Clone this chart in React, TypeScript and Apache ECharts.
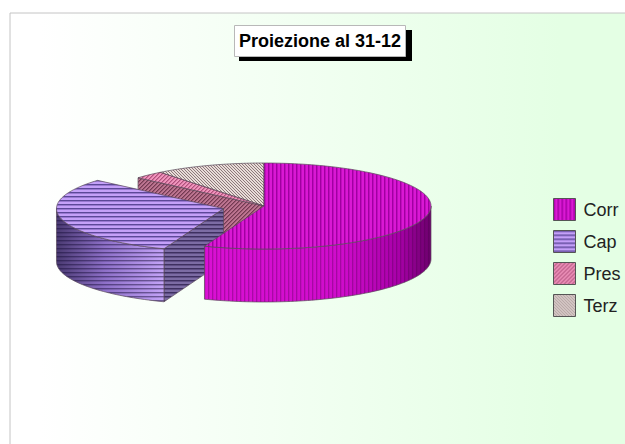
import React, { useEffect, useRef } from "react";
import * as echarts from "echarts";

const titleText = "Proiezione al 31-12";
const categories = ["Corr", "Cap", "Pres", "Terz"];
const values = [55.8, 30.6, 2.9, 10.7];
const explode = [0, 0.25, 0, 0];
const stacking = [5, 4, 3, 2];

const CX = 264, CY = 206, RX = 167, RY = 43, DEPTH = 53;

function tile(size: number, base: string, draw: (c: CanvasRenderingContext2D) => void) {
  const cv = document.createElement("canvas");
  cv.width = size; cv.height = size;
  const c = cv.getContext("2d")!;
  if (base) { c.fillStyle = base; c.fillRect(0, 0, size, size); }
  draw(c);
  return { image: cv, repeat: "repeat" } as any;
}
const vLines = (base: string, line: string, soft: string) => tile(4, base, c => {
  c.fillStyle = line; c.fillRect(0, 0, 1, 4);
  c.fillStyle = soft; c.fillRect(1, 0, 1, 4);
});
const hLines = (base: string, line: string, soft: string) => tile(4, base, c => {
  c.fillStyle = line; c.fillRect(0, 0, 4, 1);
  c.fillStyle = soft; c.fillRect(0, 1, 4, 1);
});
const diag = (base: string, line: string) => tile(3, base, c => {
  c.fillStyle = line;
  for (let i = 0; i < 3; i++) c.fillRect(i, i, 1, 1);
});
const diagUp = (base: string, line: string) => tile(4, base, c => {
  c.fillStyle = line;
  for (let i = 0; i < 4; i++) c.fillRect(3 - i, i, 1, 1);
  c.globalAlpha = 0.5;
  for (let i = 0; i < 4; i++) c.fillRect((4 - i) % 4, i, 1, 1);
});

const topFill = [
  () => vLines("#DA18D4", "#A000A0", "#C00CBE"),
  () => hLines("#C4A0F8", "#5C4898", "#9878D0"),
  () => diagUp("#F094BC", "#B0507C"),
  () => diag("#E8DCD8", "#8C787A"),
];
const overlay = [
  () => vLines("rgba(0,0,0,0)", "rgba(70,0,70,0.32)", "rgba(70,0,70,0.10)"),
  () => hLines("rgba(0,0,0,0)", "rgba(25,15,60,0.5)", "rgba(25,15,60,0.2)"),
];
const faceFill = [
  () => vLines("#C000B8", "#800080", "#A000A0"),
  () => hLines("#7C6CA4", "#3E3060", "#5E4E84"),
  () => diagUp("#BC7490", "#743A52"),
  () => diag("#B8A8A8", "#5A4A4E"),
];
const wallGradient = [
  (x0: number, x1: number) => new echarts.graphic.LinearGradient(x0, 0, x1, 0, [
    { offset: 0, color: "#DA10D4" }, { offset: 0.6, color: "#D00CCC" },
    { offset: 0.86, color: "#A800A8" }, { offset: 1, color: "#6C006C" }], true),
  (x0: number, x1: number) => new echarts.graphic.LinearGradient(x0, 0, x1, 0, [
    { offset: 0, color: "#4A3A72" }, { offset: 0.45, color: "#8E70C8" },
    { offset: 1, color: "#C4A4F8" }], true),
];

const total = values.reduce((a, b) => a + b, 0);
const bounds: number[] = [];
values.reduce((acc, v) => { bounds.push(acc); return acc + (v / total) * 360; }, 0);
bounds.push(360);

const rad = (d: number) => (d * Math.PI) / 180;
const pt = (cx: number, cy: number, t: number): number[] => [
  cx + RX * Math.sin(rad(t)), cy - RY * Math.cos(rad(t)),
];
function arc(cx: number, cy: number, a: number, b: number) {
  const pts: number[][] = [];
  const n = Math.max(2, Math.ceil((b - a) / 1.5));
  for (let i = 0; i <= n; i++) pts.push(pt(cx, cy, a + ((b - a) * i) / n));
  return pts;
}
const EDGE = { stroke: "#5A4A5A", lineWidth: 0.7, lineJoin: "round" };

function renderSlice(idx: number) {
  return () => {
    const a = bounds[idx], b = bounds[idx + 1], mid = (a + b) / 2;
    const k = explode[idx];
    const cx = CX + k * RX * Math.sin(rad(mid));
    const cy = CY - k * RY * Math.cos(rad(mid));
    const children: any[] = [];
    const poly = (points: number[][], fill: any, stroke = true) => children.push({
      type: "polygon", shape: { points },
      style: { fill, ...(stroke ? EDGE : { stroke: "none" }) },
    });
    const drop = (p: number[][]) => p.map(q => [q[0], q[1] + DEPTH]).reverse();
    // cut face on the start side of the slice
    if (a > 180 && a < 360) {
      const rim = pt(cx, cy, a);
      poly([[cx, cy], rim, [rim[0], rim[1] + DEPTH], [cx, cy + DEPTH]], faceFill[idx]());
    }
    // outer wall
    const wa = Math.max(a, 90), wb = Math.min(b, 270);
    if (wb > wa) {
      const top = arc(cx, cy, wa, wb);
      const outline = [...top, ...drop(top)];
      const xs = top.map(q => q[0]);
      const x0 = Math.min(...xs), x1 = Math.max(...xs);
      const grad = idx < wallGradient.length ? wallGradient[idx](x0, x1) : faceFill[idx]();
      poly(outline, grad, false);
      if (idx < overlay.length) poly(outline, overlay[idx]());
    }
    // top surface
    poly([[cx, cy], ...arc(cx, cy, a, b)], topFill[idx]());
    return { type: "group", children } as any;
  };
}

export default function App() {
  const ref = useRef<HTMLDivElement>(null);
  useEffect(() => {
    const chart = echarts.init(ref.current!, undefined, { renderer: "svg" });
    chart.setOption({
      animation: false,
      backgroundColor: "#FFFFFF",
      title: {
        text: titleText, left: 234, top: 25, padding: [6, 5],
        backgroundColor: "#FFFFFF", borderColor: "#B8B8B8", borderWidth: 1,
        textStyle: { fontFamily: "Liberation Sans", fontSize: 18, fontWeight: "bold", color: "#000", lineHeight: 20 },
      },
      legend: {
        orient: "vertical", left: 553, top: 198, itemWidth: 22, itemHeight: 22, itemGap: 9,
        selectedMode: false, icon: "rect", padding: 0,
        textStyle: { fontFamily: "Liberation Sans", fontSize: 18, color: "#222", lineHeight: 22, padding: [0, 0, 0, 3] },
        data: categories.map((name, i) => ({
          name,
          itemStyle: { color: topFill[i](), borderColor: "#555", borderWidth: 1 },
        })),
      },
      graphic: {
        elements: [
          {
            type: "rect", z: 0, silent: true,
            shape: { x: 10, y: 13, width: 700, height: 500 },
            style: {
              fill: new echarts.graphic.LinearGradient(40, 0, 560, 0, [
                { offset: 0, color: "#FFFFFF" }, { offset: 1, color: "#E4FFE4" }], true),
              stroke: "#C4C4C4", lineWidth: 1,
            },
          },
          {
            type: "rect", z: 5, silent: true,
            shape: { x: 239, y: 30, width: 173, height: 31 },
            style: { fill: "#000" },
          },
        ],
      },
      series: categories.map((name, i) => ({
        type: "custom", name, coordinateSystem: "none", z: stacking[i],
        data: [values[i]],
        itemStyle: { color: topFill[i]() },
        renderItem: renderSlice(i),
      })),
    });
    return () => chart.dispose();
  }, []);
  return <div ref={ref} style={{ position: "fixed", left: 0, top: 0, width: 625, height: 444 }} />;
}
